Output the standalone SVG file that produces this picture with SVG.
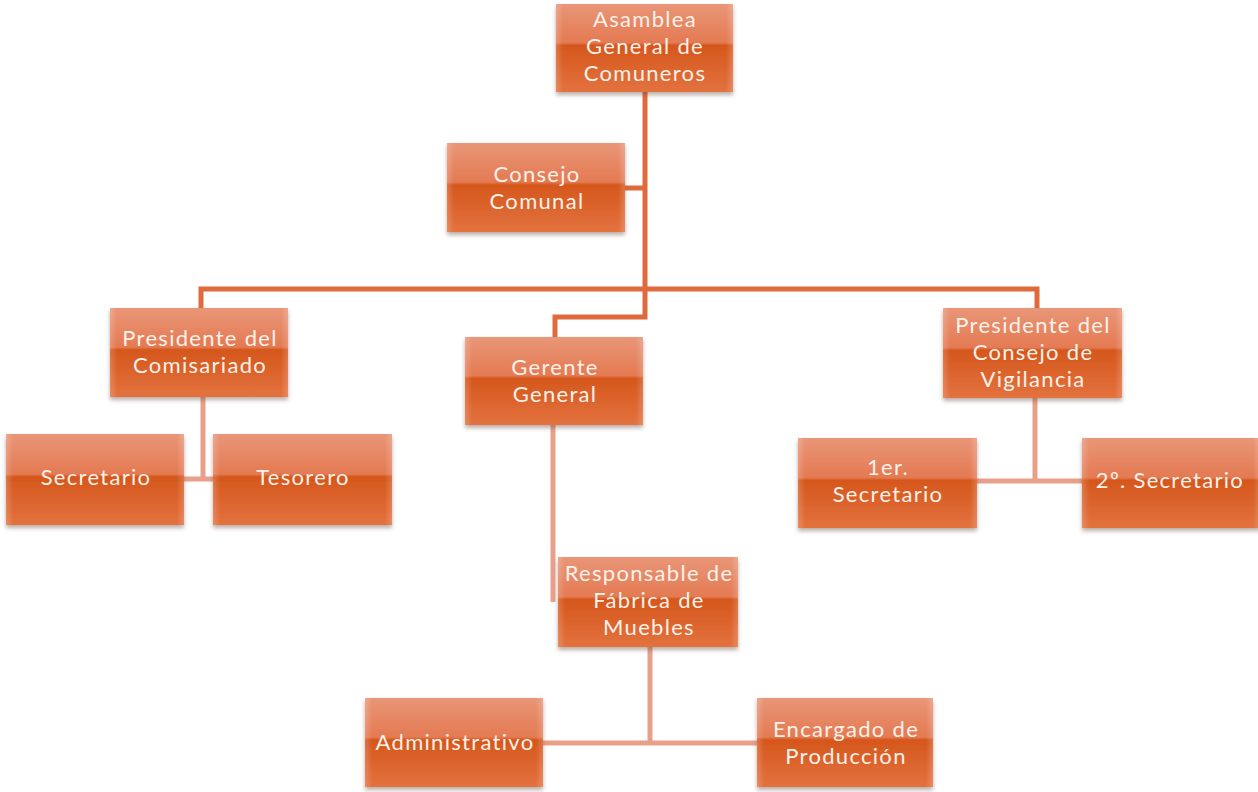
<svg xmlns="http://www.w3.org/2000/svg" width="1258" height="792" viewBox="0 0 1258 792">
<defs>
<linearGradient id="g" x1="0" y1="0" x2="0" y2="1">
<stop offset="0" stop-color="#e99678"/>
<stop offset="0.44" stop-color="#e47a52"/>
<stop offset="0.47" stop-color="#d5571c"/>
<stop offset="1" stop-color="#e3723f"/>
</linearGradient>
<linearGradient id="edge" x1="0" y1="0" x2="1" y2="0">
<stop offset="0" stop-color="#ffffff" stop-opacity="0.18"/>
<stop offset="0.04" stop-color="#ffffff" stop-opacity="0"/>
<stop offset="0.96" stop-color="#ffffff" stop-opacity="0"/>
<stop offset="1" stop-color="#ffffff" stop-opacity="0.18"/>
</linearGradient>
<filter id="sh" x="-10%" y="-10%" width="120%" height="130%">
<feDropShadow dx="0" dy="3" stdDeviation="2" flood-color="#6b4a3a" flood-opacity="0.45"/>
</filter>
</defs>
<style>
.box{fill:url(#g);filter:url(#sh)}
.hl{fill:url(#edge)}
.t{font-family:Lato,"Open Sans","DejaVu Sans",sans-serif;font-size:22px;letter-spacing:1.3px;fill:#fdf1ea;text-anchor:middle}
.dark{stroke:#e06a3c;stroke-width:5;fill:none}
.light{stroke:#e9a08a;stroke-width:5;fill:none}
</style>
<rect width="1258" height="792" fill="#ffffff"/>
<g id="connectors">
<path class="dark" d="M645 92 V317 H555 V338"/>
<path class="dark" d="M625 188 H645"/>
<path class="dark" d="M201 309 V289 H1037 V309"/>
<path class="light" d="M553 425 V602"/>
<path class="light" d="M203 397 V479 M184 479 H213"/>
<path class="light" d="M1035 398 V481 M977 481 H1082"/>
<path class="light" d="M650 647 V743 M543 743 H757"/>
</g>
<g id="asamblea">
<rect class="box" x="556" y="4" width="177" height="88"/><rect class="hl" x="556" y="4" width="177" height="88"/>
<text class="t" x="645" y="27">Asamblea</text><text class="t" x="645" y="54">General de</text><text class="t" x="645" y="81">Comuneros</text>
</g>
<g id="consejo-comunal">
<rect class="box" x="447" y="143" width="178" height="89"/><rect class="hl" x="447" y="143" width="178" height="89"/>
<text class="t" x="537" y="182">Consejo</text><text class="t" x="537" y="209">Comunal</text>
</g>
<g id="presidente-comisariado">
<rect class="box" x="110" y="308" width="178" height="89"/><rect class="hl" x="110" y="308" width="178" height="89"/>
<text class="t" x="200" y="346">Presidente del</text><text class="t" x="200" y="373">Comisariado</text>
</g>
<g id="gerente-general">
<rect class="box" x="465" y="337" width="178" height="88"/><rect class="hl" x="465" y="337" width="178" height="88"/>
<text class="t" x="555" y="375">Gerente</text><text class="t" x="555" y="402">General</text>
</g>
<g id="presidente-vigilancia">
<rect class="box" x="943" y="308" width="179" height="90"/><rect class="hl" x="943" y="308" width="179" height="90"/>
<text class="t" x="1033" y="333">Presidente del</text><text class="t" x="1033" y="360">Consejo de</text><text class="t" x="1033" y="387">Vigilancia</text>
</g>
<g id="secretario">
<rect class="box" x="6" y="434" width="178" height="91"/><rect class="hl" x="6" y="434" width="178" height="91"/>
<text class="t" x="96" y="485">Secretario</text>
</g>
<g id="tesorero">
<rect class="box" x="213" y="434" width="179" height="91"/><rect class="hl" x="213" y="434" width="179" height="91"/>
<text class="t" x="303" y="485">Tesorero</text>
</g>
<g id="primer-secretario">
<rect class="box" x="798" y="438" width="179" height="90"/><rect class="hl" x="798" y="438" width="179" height="90"/>
<text class="t" x="888" y="475">1er.</text><text class="t" x="888" y="502">Secretario</text>
</g>
<g id="segundo-secretario">
<rect class="box" x="1082" y="438" width="178" height="90"/><rect class="hl" x="1082" y="438" width="178" height="90"/>
<text class="t" x="1170" y="488">2º. Secretario</text>
</g>
<g id="responsable">
<rect class="box" x="558" y="557" width="180" height="90"/><rect class="hl" x="558" y="557" width="180" height="90"/>
<text class="t" x="649" y="581">Responsable de</text><text class="t" x="649" y="608">Fábrica de</text><text class="t" x="649" y="635">Muebles</text>
</g>
<g id="administrativo">
<rect class="box" x="365" y="698" width="178" height="89"/><rect class="hl" x="365" y="698" width="178" height="89"/>
<text class="t" x="455" y="750">Administrativo</text>
</g>
<g id="encargado">
<rect class="box" x="757" y="698" width="176" height="89"/><rect class="hl" x="757" y="698" width="176" height="89"/>
<text class="t" x="846" y="737">Encargado de</text><text class="t" x="846" y="764">Producción</text>
</g>
</svg>
